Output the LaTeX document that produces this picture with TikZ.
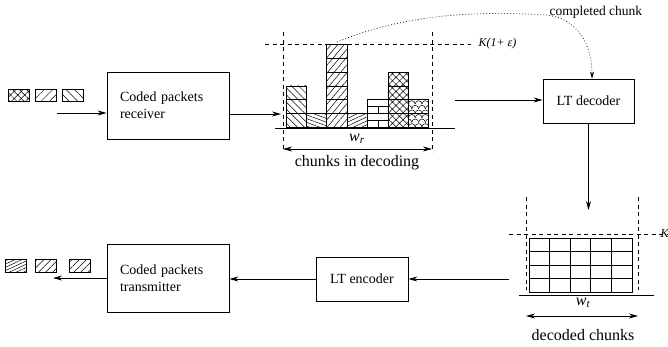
\documentclass[tikz,border=0pt]{standalone}
\usepackage{fontspec}
\setmainfont{Liberation Serif}
\usetikzlibrary{arrows.meta,patterns.meta,positioning}
\tikzset{
  block/.style={draw,line width=0.8pt,minimum height=44pt,inner sep=0pt,
    font=\fontsize{14}{17}\selectfont},
  coder/.style={block,minimum width=122pt,minimum height=67pt,
    text width=96pt,inner xsep=13pt,align=left},
  flow/.style={line width=0.8pt,-{Stealth[length=9pt,width=5pt]}},
  span/.style={line width=0.8pt,
    {Stealth[length=9pt,width=5pt]}-{Stealth[length=9pt,width=5pt]}},
  bound/.style={line width=0.7pt,dash pattern=on 4pt off 3.5pt},
  cell/.style={draw,line width=0.8pt},
  packet/.style={draw,line width=0.6pt},
  caption/.style={font=\fontsize{16}{19}\selectfont},
}
\def\chunkw{20.4}
\def\chunkh{13.7}

\begin{document}
\begin{tikzpicture}[x=1pt,y=-1pt]
    \useasboundingbox (0,0) rectangle (668,346);
    % set coordinates
    \node [coder] (rx) at (168,105.5) {Coded packets\\receiver};
    \node [coder,minimum height=68pt] (tx) at (168,278) {Coded packets\\transmitter};
    \node [block,minimum width=91pt] (dec) at (588.5,101) {LT decoder};
    \node [block,minimum width=92pt] (enc) at (362,279) {LT encoder};
    \coordinate (in) at (57,113);
    \coordinate (out) at (53,278);
    \coordinate (win) at (281,114);
    \coordinate (wout) at (455,100);
    \coordinate (gin) at (590,210);
    \coordinate (gout) at (509,279);
    \coordinate (top) at (337,42);

    % incoming and outgoing packets
    \draw [packet,pattern={Hatch[angle=45,distance=5pt,line width=0.5pt]}] (8,89) rectangle +(21,12);
    \draw [packet,pattern={Lines[angle=45,distance=6pt,line width=0.5pt]}] (35,89) rectangle +(21,12);
    \draw [packet,pattern={Lines[angle=-45,distance=6pt,line width=0.5pt]}] (62,89) rectangle +(21,12);
    \draw [packet,pattern={Lines[angle=25,distance=3pt,line width=0.5pt]}] (5,259) rectangle +(21,13);
    \draw [packet,pattern={Lines[angle=45,distance=5pt,line width=0.5pt]}] (35,259) rectangle +(21,13);
    \draw [packet,pattern={Lines[angle=45,distance=5pt,line width=0.5pt]}] (69,259) rectangle +(21,13);

    % chunks in decoding
    \foreach \c/\n/\ang/\d in {0/3/-45/5,1/1/-20/3.5,2/6/50/5,3/1/25/3.5}
      \foreach \k in {1,...,\n}
        \draw [cell,pattern={Lines[angle=\ang,distance=\d pt,line width=0.5pt]}]
          ({286+\c*\chunkw},{127-(\k-1)*\chunkh}) rectangle +(\chunkw,-\chunkh);
    \foreach \k in {1,...,4}
      \draw [cell,pattern={Hatch[angle=45,distance=5pt,line width=0.5pt]}]
        ({286+5*\chunkw},{127-(\k-1)*\chunkh}) rectangle +(\chunkw,-\chunkh);
    \foreach \k in {1,2} {
      % bricks
      \draw [cell] ({286+4*\chunkw},{127-(\k-1)*\chunkh}) rectangle +(\chunkw,-\chunkh);
      \draw [line width=0.6pt] ({286+4*\chunkw},{127-(\k-0.5)*\chunkh}) -- +(\chunkw,0);
      \draw [line width=0.6pt] ({286+4.5*\chunkw},{127-(\k-1)*\chunkh}) -- +(0,-0.5*\chunkh);
      % scales
      \begin{scope}
        \clip ({286+6*\chunkw},{127-(\k-1)*\chunkh}) rectangle +(\chunkw,-\chunkh);
        \foreach \r in {0,1,2}
          \foreach \i in {-1,0,1,2}
            \draw [line width=0.5pt] ({286+6*\chunkw+\i*6.8+mod(\r,2)*3.4},{127-(\k-1)*\chunkh-\r*4.6})
              arc (180:360:3.4);
      \end{scope}
      \draw [cell] ({286+6*\chunkw},{127-(\k-1)*\chunkh}) rectangle +(\chunkw,-\chunkh);
    }
    \draw [bound] (283,32) -- (283,152);
    \draw [bound] (432,32) -- (432,152);
    \draw [bound] (265,44) -- (471,44);
    \draw [line width=0.8pt] (275,128) -- (455,128);
    \draw [span] (283,149) -- (432,149);

    % decoded chunks
    \foreach \i in {0,...,4}
      \foreach \j in {0,...,3}
        \draw [cell,line width=1pt] ({529+\i*20.6},{238+\j*13.5}) rectangle +(20.6,13.5);
    \draw [bound] (526,197) -- (526,290);
    \draw [bound] (638,197) -- (638,290);
    \draw [bound] (509,234) -- (668,234);
    \draw [line width=0.8pt] (519,295) -- (654,295);
    \draw [span] (526,316) -- (638,316);

    % draw figure
    \draw [flow] (in) -- (in -| rx.west);
    \draw [line width=0.8pt,-{Stealth[length=9pt,width=5pt]}] (win -| rx.east) -- (win);
    \draw [flow] (wout) -- (wout -| dec.west);
    \draw [flow] (dec.south) -- (dec.south |- gin);
    \draw [flow] (gout) -- (enc.east);
    \draw [flow] (enc.west) -- (enc.west -| tx.east);
    \draw [flow] (tx.west |- out) -- (out);
    \node [anchor=base west,font=\fontsize{13.5}{16}\selectfont] (done) at (546,15) {completed chunk};
    \draw [line width=0.7pt,dash pattern=on 0.8pt off 2.2pt,-{Stealth[length=7pt,width=4pt]}]
      (top) .. controls (400,16) and (470,10) .. (done.base west)
      .. controls (578,18) and (592,45) .. (dec.north -| 592,0);

    % add labels
    \node [anchor=west,font=\fontsize{12}{14}\selectfont\itshape] (kr) at (475,44) {K(1+ ε)};
    \node [anchor=west,font=\fontsize{12}{14}\selectfont\itshape] (kt) at (657,234) {K};
    \node [caption] (wr) at (357,139) {\textit{w\textsubscript{r}}};
    \node [caption] (wt) at (583,303) {\textit{w\textsubscript{t}}};
    \node [caption] (lr) at (357,163) {chunks in decoding};
    \node [caption] (lt) at (583,335) {decoded chunks};
\end{tikzpicture}
\end{document}
